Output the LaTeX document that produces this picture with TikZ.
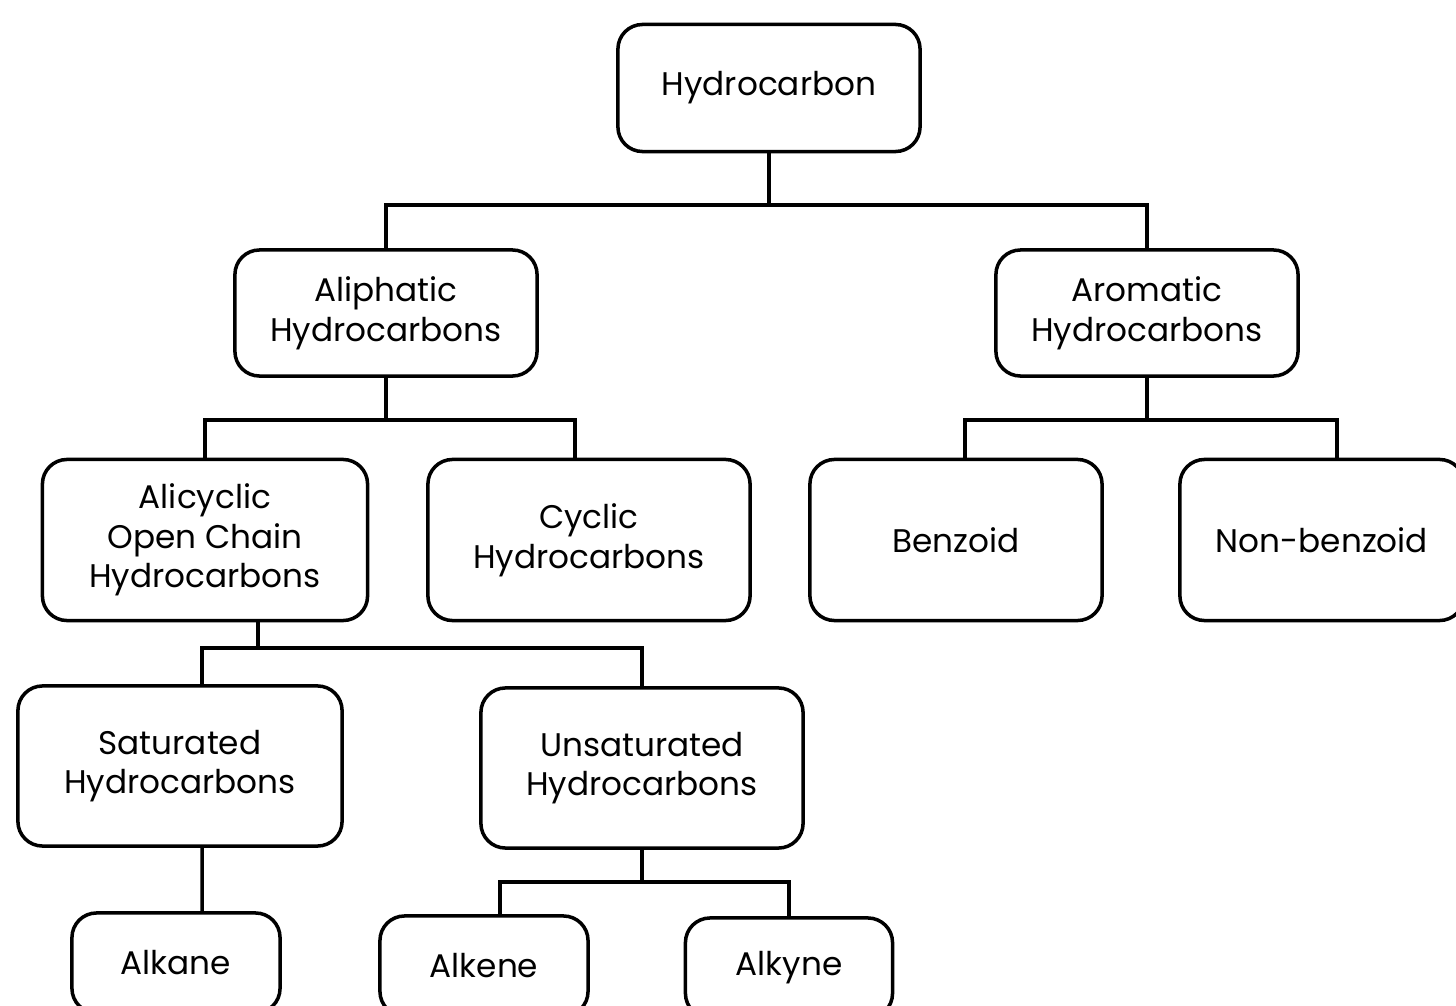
\documentclass[tikz,border=0pt]{standalone}
\usepackage{fontspec}
\setmainfont{Poppins}
\tikzset{
  box/.style  = {draw, line width=1pt, rounded corners=7pt, align=center,
                 inner sep=0pt, fill=white,
                 font=\fontsize{9.3}{11.3}\selectfont},
  link/.style = {line width=1pt}
}

\begin{document}
\begin{tikzpicture}[x=0.01cm, y=-0.01cm]
	\useasboundingbox (0,0) rectangle (1456,1006);
	\fill[white] (0,0) rectangle (1456,1006);
	
	% Boxes
	\node[box, minimum width=3.02cm, minimum height=1.27cm] (hc)     at (769,88)  {Hydrocarbon};
	\node[box, minimum width=3.02cm, minimum height=1.26cm] (aliph)  at (386,313) {Aliphatic\\Hydrocarbons};
	\node[box, minimum width=3.02cm, minimum height=1.26cm] (arom)   at (1147,313) {Aromatic\\Hydrocarbons};
	\node[box, minimum width=3.25cm, minimum height=1.61cm] (acyc)   at (205,540) {Alicyclic\\Open Chain\\Hydrocarbons};
	\node[box, minimum width=3.22cm, minimum height=1.61cm] (cyc)    at (589,540) {Cyclic\\Hydrocarbons};
	\node[box, minimum width=2.92cm, minimum height=1.61cm] (benz)   at (956,540) {Benzoid};
	\node[box, minimum width=2.84cm, minimum height=1.61cm] (nbenz)  at (1322,540) {Non-benzoid};
	\node[box, minimum width=3.24cm, minimum height=1.60cm] (sat)    at (180,766) {Saturated\\Hydrocarbons};
	\node[box, minimum width=3.22cm, minimum height=1.60cm] (unsat)  at (642,768) {Unsaturated\\Hydrocarbons};
	\node[box, minimum width=2.08cm, minimum height=1.00cm] (alkane) at (176,963) {Alkane};
	\node[box, minimum width=2.08cm, minimum height=1.00cm] (alkene) at (484,966) {Alkene};
	\node[box, minimum width=2.07cm, minimum height=1.00cm] (alkyne) at (789,968) {Alkyne};
	
	% Junctions
	\coordinate (j1) at (769,205);
	\coordinate (j2) at (386,420);
	\coordinate (j3) at (1147,420);
	\coordinate (j4) at (258,648);
	\coordinate (j5) at (642,882);
	
	% Connectors
	\draw[link] (hc.south) -- (j1);
	\draw[link] (aliph.north) |- (j1) -| (arom.north);
	\draw[link] (aliph.south) -- (j2);
	\draw[link] (acyc.north) |- (j2) -| ([xshift=-0.14cm]cyc.north);
	\draw[link] (arom.south) -- (j3);
	\draw[link] ([xshift=0.09cm]benz.north) |- (j3) -| ([xshift=0.15cm]nbenz.north);
	\draw[link] (j4) -- (j4 |- acyc.south);
	\draw[link] ([xshift=0.22cm]sat.north) |- (j4) -| (unsat.north);
	\draw[link] ([xshift=0.22cm]sat.south) -- ([xshift=0.26cm]alkane.north);
	\draw[link] (unsat.south) -- (j5);
	\draw[link] ([xshift=0.16cm]alkene.north) |- (j5) -| (alkyne.north);

\end{tikzpicture}
\end{document}
